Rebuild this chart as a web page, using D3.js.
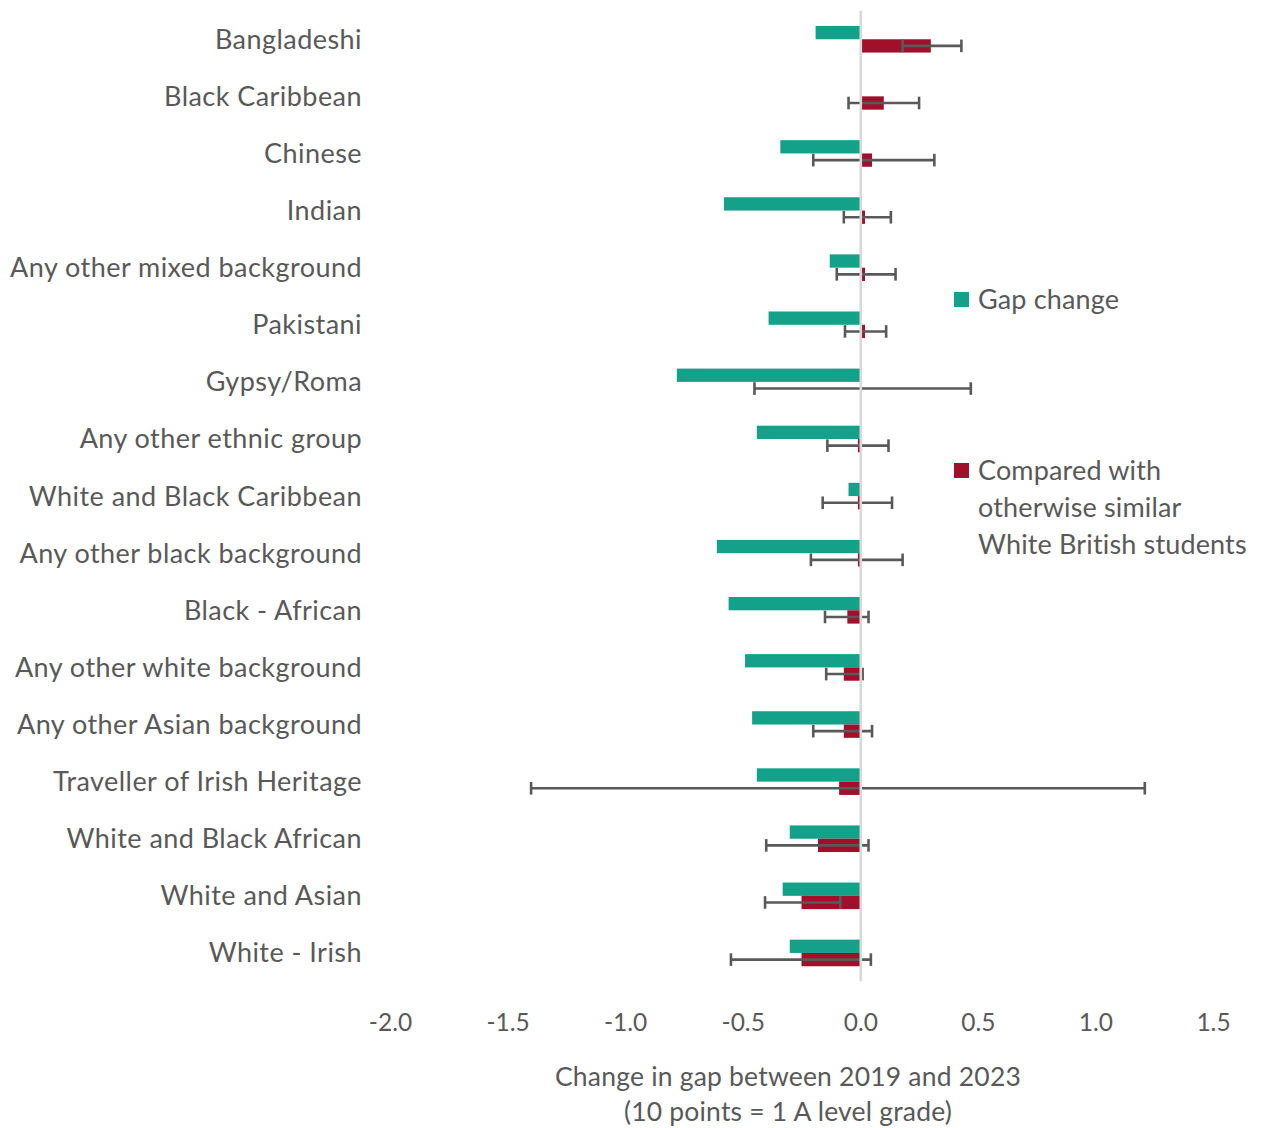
<!DOCTYPE html>
<html>
<head>
<meta charset="utf-8">
<script src="https://cdn.jsdelivr.net/npm/d3@7"></script>
<style>
  html, body { margin: 0; padding: 0; background: #ffffff; }
  svg { display: block; }
  text { font-family: Lato, "Noto Sans", sans-serif; fill: #595959; }
</style>
</head>
<body>
<svg id="chart" width="1262" height="1128"></svg>
<script>
// Ethnic groups, top to bottom
const categories = [
  "Bangladeshi", "Black Caribbean", "Chinese", "Indian",
  "Any other mixed background", "Pakistani", "Gypsy/Roma",
  "Any other ethnic group", "White and Black Caribbean",
  "Any other black background", "Black - African",
  "Any other white background", "Any other Asian background",
  "Traveller of Irish Heritage", "White and Black African",
  "White and Asian", "White - Irish"
];

// Raw change in gap between 2019 and 2023
const gapChange = [-0.19, 0, -0.34, -0.58, -0.13, -0.39, -0.78, -0.44, -0.05,
  -0.61, -0.56, -0.49, -0.46, -0.44, -0.30, -0.33, -0.30];

// Change compared with otherwise similar White British students
const comparedChange = [0.30, 0.10, 0.05, 0.02, 0.02, 0.02, 0.00, -0.01, -0.01,
  -0.01, -0.055, -0.07, -0.07, -0.09, -0.18, -0.25, -0.25];

// Confidence interval for the comparison
const ciLow = [0.18, -0.05, -0.20, -0.07, -0.10, -0.065, -0.45, -0.14, -0.16,
  -0.21, -0.15, -0.145, -0.20, -1.40, -0.40, -0.405, -0.55];
const ciHigh = [0.43, 0.25, 0.315, 0.13, 0.15, 0.11, 0.47, 0.12, 0.135,
  0.18, 0.035, 0.01, 0.05, 1.21, 0.035, -0.085, 0.045];

const xTicks = [-2.0, -1.5, -1.0, -0.5, 0.0, 0.5, 1.0, 1.5];
const seriesNames = ["Gap change", "Compared with otherwise similar White British students"];
const legendLines = [["Gap change"], ["Compared with", "otherwise similar", "White British students"]];
const axisTitle = ["Change in gap between 2019 and 2023", "(10 points = 1 A level grade)"];

const TEAL = "#13a189";
const RED = "#a10f2a";
const ERR = "#595959";

const svg = d3.select("#chart");

const x = d3.scaleLinear().domain([-2.0, 1.5]).range([390, 1213]);
const y = d3.scaleBand().domain(categories).range([10.7, 981.5]).padding(0);
const barH = 13.3;
const sub = d3.scaleBand().domain(seriesNames)
  .range([-barH, barH]).padding(0);

const rows = categories.map((c, i) => ({
  cat: c, gap: gapChange[i], cmp: comparedChange[i], lo: ciLow[i], hi: ciHigh[i]
}));
const mid = c => y(c) + y.bandwidth() / 2;

// Category labels
svg.append("g").selectAll("text").data(categories).join("text")
  .attr("x", 362)
  .attr("y", d => mid(d))
  .attr("dy", "0.35em")
  .attr("text-anchor", "end")
  .style("font-size", "27px")
  .style("letter-spacing", "0.45px")
  .text(d => d);

// Bars
const g = svg.append("g");
g.selectAll("rect.gap").data(rows).join("rect")
  .attr("class", "gap")
  .attr("x", d => x(Math.min(0, d.gap)))
  .attr("width", d => Math.abs(x(d.gap) - x(0)))
  .attr("y", d => mid(d.cat) + sub(seriesNames[0]))
  .attr("height", sub.bandwidth())
  .attr("fill", TEAL);

g.selectAll("rect.cmp").data(rows).join("rect")
  .attr("class", "cmp")
  .attr("x", d => x(Math.min(0, d.cmp)))
  .attr("width", d => Math.abs(x(d.cmp) - x(0)))
  .attr("y", d => mid(d.cat) + sub(seriesNames[1]))
  .attr("height", sub.bandwidth())
  .attr("fill", RED);

// Error bars on the comparison series
const eb = svg.append("g").attr("stroke", ERR).attr("stroke-width", 2.6).attr("fill", "none");
const ey = d => mid(d.cat) + sub(seriesNames[1]) + sub.bandwidth() / 2;
const capH = 6.3;
eb.selectAll("line.span").data(rows).join("line")
  .attr("x1", d => x(d.lo)).attr("x2", d => x(d.hi))
  .attr("y1", ey).attr("y2", ey);
eb.selectAll("line.lo").data(rows).join("line")
  .attr("x1", d => x(d.lo)).attr("x2", d => x(d.lo))
  .attr("y1", d => ey(d) - capH).attr("y2", d => ey(d) + capH);
eb.selectAll("line.hi").data(rows).join("line")
  .attr("x1", d => x(d.hi)).attr("x2", d => x(d.hi))
  .attr("y1", d => ey(d) - capH).attr("y2", d => ey(d) + capH);

// Zero reference line
svg.append("line")
  .attr("x1", x(0) + 0.5).attr("x2", x(0) + 0.5)
  .attr("y1", y.range()[0]).attr("y2", y.range()[1])
  .attr("stroke", "#d9d9d9").attr("stroke-width", 2.6);

// X axis (labels only)
const xAxis = d3.axisBottom(x).tickValues(xTicks).tickSize(0).tickPadding(0)
  .tickFormat(d => d.toFixed(1));
const ax = svg.append("g").attr("transform", "translate(0,1022)").call(xAxis);
ax.select(".domain").remove();
ax.selectAll("text")
  .attr("dy", "0.35em")
  .style("font-family", "Lato, 'Noto Sans', sans-serif")
  .style("font-size", "24.5px")
  .attr("fill", "#595959");

// Axis title
svg.append("g").selectAll("text").data(axisTitle).join("text")
  .attr("x", 788)
  .attr("y", (d, i) => 1077 + i * 35)
  .attr("dy", "0.35em")
  .attr("text-anchor", "middle")
  .style("font-size", "26.5px")
  .style("letter-spacing", "0.2px")
  .text(d => d);

// Legend
const legendY = [300, 471];
const legendColors = [TEAL, RED];
const lg = svg.append("g");
legendLines.forEach((lines, k) => {
  lg.append("rect")
    .attr("x", 954).attr("y", legendY[k] - 8)
    .attr("width", 15).attr("height", 15)
    .attr("fill", legendColors[k]);
  lines.forEach((t, j) => {
    lg.append("text")
      .attr("x", 978).attr("y", legendY[k] + j * 37)
      .attr("dy", "0.35em")
      .style("font-size", "27px")
      .style("letter-spacing", "0.15px")
      .text(t);
  });
});
</script>
</body>
</html>
